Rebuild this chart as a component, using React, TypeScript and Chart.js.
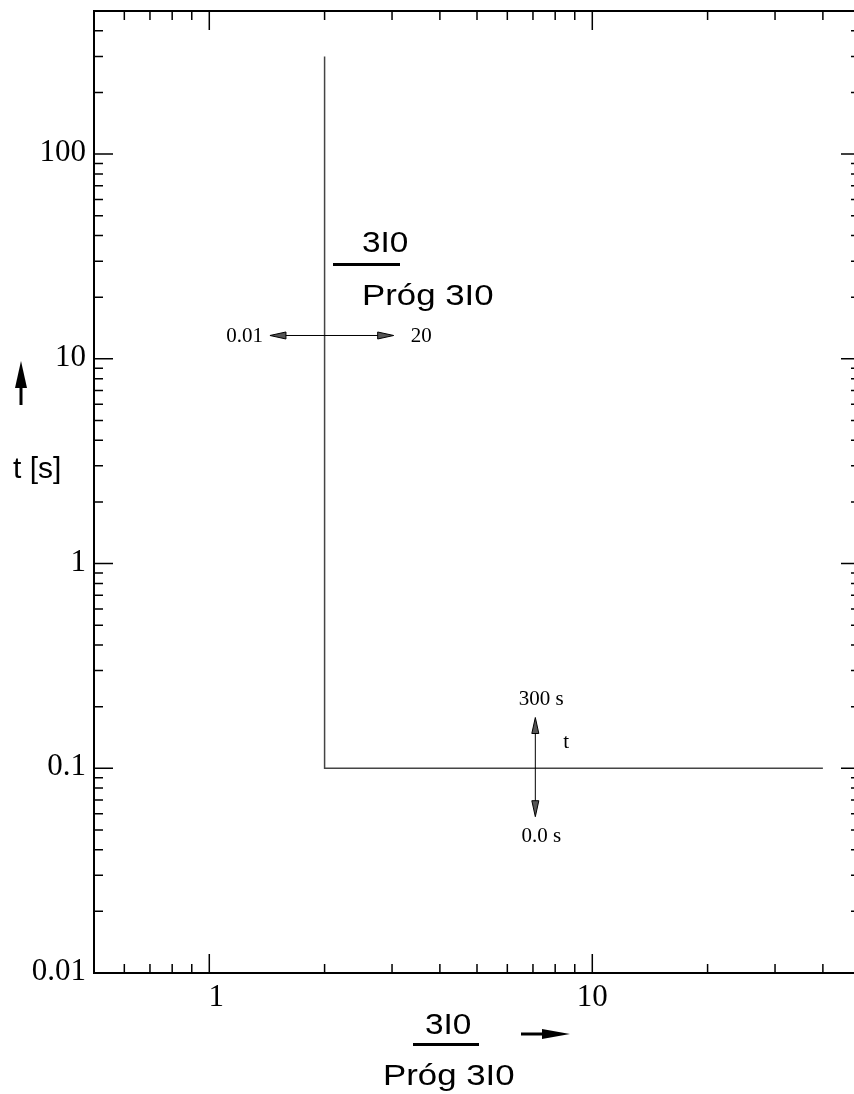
import React, { useEffect, useRef } from "react";
import { Chart, registerables } from "chart.js";

Chart.register(...registerables);

// ---- data ----
const curveX = [2, 2, 40];
const curveY = [300, 0.1, 0.1];
const xTickValues = [1, 10];
const xTickLabels = ["1", "10"];
const yTickValues = [0.01, 0.1, 1, 10, 100];
const yTickLabels = ["0.01", "0.1", "1", "10", "100"];
const xMin = 0.5;
const xMax = 50;
const yMin = 0.01;
const yMax = 500;
// setting ranges shown by the annotation arrows
const thresholdRangeLabels = ["0.01", "20"];
const timeRangeLabels = ["300 s", "0.0 s"];

const CANVAS_W = 880;
const CANVAS_H = 1094;
const SANS = "'Liberation Sans', Arial, sans-serif";
const SERIF = "'Liberation Serif', 'Times New Roman', serif";

function drawStretched(ctx: CanvasRenderingContext2D, text: string, x: number, y: number, size: number, sx: number) {
  ctx.save();
  ctx.translate(x, y);
  ctx.scale(sx, 1);
  ctx.font = `${size}px ${SANS}`;
  ctx.textAlign = "left";
  ctx.textBaseline = "alphabetic";
  ctx.fillText(text, 0, 0);
  ctx.restore();
}

function arrowHead(ctx: CanvasRenderingContext2D, tipX: number, tipY: number, dx: number, dy: number, len: number, half: number, fill: string, stroke: boolean) {
  const bx = tipX - dx * len;
  const by = tipY - dy * len;
  const px = -dy;
  const py = dx;
  ctx.beginPath();
  ctx.moveTo(tipX, tipY);
  ctx.lineTo(bx + px * half, by + py * half);
  ctx.lineTo(bx - px * half, by - py * half);
  ctx.closePath();
  ctx.fillStyle = fill;
  ctx.fill();
  if (stroke) {
    ctx.lineWidth = 1;
    ctx.strokeStyle = "#000";
    ctx.stroke();
  }
}

const decorPlugin = {
  id: "decor",
  afterDraw(chart: any) {
    const ctx: CanvasRenderingContext2D = chart.ctx;
    const xs = chart.scales.x;
    const ys = chart.scales.y;
    const { left, right, top, bottom } = chart.chartArea;
    ctx.save();

    // frame
    ctx.strokeStyle = "#000";
    ctx.lineWidth = 2;
    ctx.strokeRect(left, top, right - left, bottom - top);

    // x ticks (bottom & top)
    ctx.lineWidth = 1.5;
    for (let d = -1; d <= 1; d++) {
      for (let m = 1; m <= 9; m++) {
        const v = m * Math.pow(10, d);
        if (v <= xMin || v >= xMax) continue;
        const px = xs.getPixelForValue(v);
        const len = m === 1 ? 19 : 9;
        ctx.beginPath();
        ctx.moveTo(px, bottom);
        ctx.lineTo(px, bottom - len);
        ctx.moveTo(px, top);
        ctx.lineTo(px, top + len);
        ctx.stroke();
      }
    }
    // y ticks (left & right)
    for (let d = -2; d <= 2; d++) {
      for (let m = 1; m <= 9; m++) {
        const v = m * Math.pow(10, d);
        if (v <= yMin || v >= yMax) continue;
        const py = ys.getPixelForValue(v);
        const len = m === 1 ? 19 : 9;
        ctx.beginPath();
        ctx.moveTo(left, py);
        ctx.lineTo(left + len, py);
        ctx.moveTo(right, py);
        ctx.lineTo(right - len, py);
        ctx.stroke();
      }
    }

    // tick labels
    ctx.fillStyle = "#000";
    ctx.font = `31px ${SERIF}`;
    ctx.textBaseline = "alphabetic";
    ctx.textAlign = "right";
    yTickValues.forEach((v, i) => {
      ctx.fillText(yTickLabels[i], left - 8, ys.getPixelForValue(v) + 7);
    });
    ctx.textAlign = "center";
    xTickValues.forEach((v, i) => {
      const off = xTickLabels[i] === "1" ? 7 : 0;
      ctx.fillText(xTickLabels[i], xs.getPixelForValue(v) + off, bottom + 33);
    });

    // y title
    ctx.font = `30px ${SANS}`;
    ctx.textAlign = "left";
    ctx.fillText("t [s]", 13, 478);
    ctx.strokeStyle = "#000";
    ctx.lineWidth = 3;
    ctx.beginPath();
    ctx.moveTo(21, 405);
    ctx.lineTo(21, 380);
    ctx.stroke();
    arrowHead(ctx, 21, 361, 0, -1, 27, 6, "#000", false);

    // x title
    drawStretched(ctx, "3I0", 425, 1034, 29, 1.15);
    ctx.fillRect(413, 1043, 66, 3);
    drawStretched(ctx, "Próg 3I0", 383, 1085, 29, 1.2);
    ctx.lineWidth = 3;
    ctx.beginPath();
    ctx.moveTo(521, 1034);
    ctx.lineTo(545, 1034);
    ctx.stroke();
    arrowHead(ctx, 570, 1034, 1, 0, 28, 5, "#000", false);

    // in-plot fraction label
    ctx.fillStyle = "#000";
    drawStretched(ctx, "3I0", 362, 252, 29, 1.15);
    ctx.fillRect(333, 263, 67, 3);
    drawStretched(ctx, "Próg 3I0", 362, 305, 29, 1.2);

    // horizontal setting arrow (threshold range)
    const hy = ys.getPixelForValue(13);
    const hx1 = xs.getPixelForValue(1.44);
    const hx2 = xs.getPixelForValue(3.03);
    ctx.strokeStyle = "#000";
    ctx.lineWidth = 1;
    ctx.beginPath();
    ctx.moveTo(hx1 + 10, hy);
    ctx.lineTo(hx2 - 10, hy);
    ctx.stroke();
    arrowHead(ctx, hx1, hy, -1, 0, 16, 3.5, "#555", true);
    arrowHead(ctx, hx2, hy, 1, 0, 16, 3.5, "#555", true);
    ctx.fillStyle = "#000";
    ctx.font = `21px ${SERIF}`;
    ctx.textAlign = "right";
    ctx.fillText(thresholdRangeLabels[0], hx1 - 7, hy + 7);
    ctx.textAlign = "left";
    ctx.fillText(thresholdRangeLabels[1], hx2 + 17, hy + 7);

    // vertical setting arrow (time range)
    const vx = xs.getPixelForValue(7.1);
    const vy1 = ys.getPixelForValue(0.177);
    const vy2 = ys.getPixelForValue(0.058);
    ctx.beginPath();
    ctx.moveTo(vx, vy1 + 10);
    ctx.lineTo(vx, vy2 - 10);
    ctx.stroke();
    arrowHead(ctx, vx, vy1, 0, -1, 16, 3.5, "#555", true);
    arrowHead(ctx, vx, vy2, 0, 1, 16, 3.5, "#555", true);
    ctx.fillStyle = "#000";
    ctx.font = `21px ${SERIF}`;
    ctx.textAlign = "center";
    ctx.fillText(timeRangeLabels[0], vx + 6, vy1 - 13);
    ctx.fillText(timeRangeLabels[1], vx + 6, vy2 + 25);
    ctx.textAlign = "left";
    ctx.fillText("t", vx + 28, vy1 + 30);

    ctx.restore();
  },
};

export default function App() {
  const ref = useRef<HTMLCanvasElement | null>(null);
  useEffect(() => {
    if (!ref.current) return;
    const chart = new Chart(ref.current, {
      type: "line",
      data: {
        datasets: [
          {
            data: curveX.map((x, i) => ({ x, y: curveY[i] })),
            borderColor: "#444",
            borderWidth: 1.5,
            pointRadius: 0,
            fill: false,
            tension: 0,
          },
        ],
      },
      options: {
        responsive: false,
        animation: false,
        devicePixelRatio: 1,
        layout: { padding: { left: 94, top: 11, right: CANVAS_W - 860, bottom: CANVAS_H - 973 } },
        plugins: { legend: { display: false }, tooltip: { enabled: false }, title: { display: false } },
        scales: {
          x: { type: "logarithmic", min: xMin, max: xMax, display: false },
          y: { type: "logarithmic", min: yMin, max: yMax, display: false },
        },
      },
      plugins: [decorPlugin],
    } as any);
    return () => chart.destroy();
  }, []);
  return (
    <div style={{ position: "fixed", left: 0, top: 0, width: 854, height: 1094, overflow: "hidden", background: "#fff" }}>
      <canvas ref={ref} width={CANVAS_W} height={CANVAS_H} style={{ width: CANVAS_W, height: CANVAS_H, display: "block" }} />
    </div>
  );
}
